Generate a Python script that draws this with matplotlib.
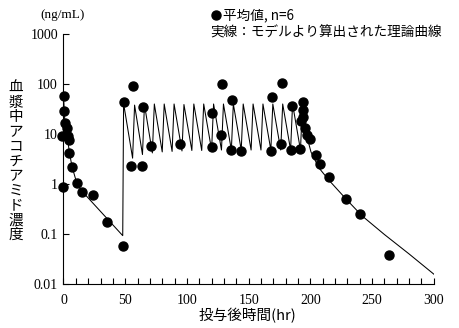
import matplotlib
matplotlib.use("Agg")
import matplotlib.pyplot as plt
import numpy as np
from matplotlib.ticker import FixedLocator, MultipleLocator

# observed mean values (hr, ng/mL)
obs_t = [0.4, 0.4, 1.5, 3.1, -1.2, 3.4, 4.2, 4.8, 7.1, 10.7, -0.3, 15, 23.6, 35, 48,
         48.7, 56.7, 54.8, 63.7, 64.5, 71, 94.5, 120.3, 120.5, 127.9, 128.7,
         136.6, 136, 144, 168.3, 169.1, 176.4, 177.2, 184.5, 185.3, 192,
         193.8, 193.8, 194.2, 192.5, 195.5, 197.5, 199.5, 204.7, 207.6, 215.2,
         228.5, 240.3, 264]
obs_c = [58, 29, 17, 13, 9.1, 9.1, 7.6, 4.2, 2.2, 1.03, 0.86, 0.70, 0.60, 0.176, 0.058,
         44, 92, 2.3, 2.3, 35, 5.8, 6.3, 5.6, 26, 9.5, 100,
         48, 4.8, 4.5, 4.6, 56, 6.4, 106, 4.8, 36, 5.1,
         44, 30, 22, 18.5, 13, 9.8, 8.0, 3.8, 2.5, 1.36,
         0.51, 0.25, 0.039]

# model curve: single dose phase
first_t = [0, 1, 2, 3, 4, 5, 7, 11, 15, 48]
first_c = [60, 20, 13, 9.5, 6, 4, 2.2, 1.0, 0.72, 0.093]

# repeated dosing phase (q8h)
dose_t = [48, 56, 64, 72, 80, 88, 96, 104, 112, 120, 128, 136, 144, 152, 160,
          168, 176, 184, 192]
peak_c = [41, 38, 39, 40, 40, 40, 39, 40, 40, 40, 40, 40, 40, 40, 40, 40, 40, 40, 40]
trough_c = [0.093, 3.3, 3.9, 4.2, 4.4, 4.5, 4.6, 4.7, 4.7, 4.8, 4.8, 4.8, 4.8, 4.8,
            4.8, 4.8, 4.8, 4.8, 4.8]

# elimination after last dose
last_t = [195.5, 200.5, 203, 207, 215, 229, 242, 260, 280, 300]
last_c = [13, 4.4, 3.3, 2.1, 1.2, 0.50, 0.23, 0.098, 0.040, 0.0158]

line_t = list(first_t)
line_c = list(first_c)
for i in range(len(dose_t)):
    line_t += [dose_t[i], dose_t[i] + (0.7 if i == 0 else 1.6)]
    line_c += [trough_c[i], peak_c[i]]
line_t += last_t
line_c += last_c

plt.rcParams['font.family'] = ['Liberation Serif', 'Noto Sans CJK JP']
jp = ['Noto Sans CJK JP', 'Liberation Serif']

fig = plt.figure(figsize=(4.6, 3.28), dpi=100)
ax = fig.add_axes([0.138, 0.134, 0.805, 0.762])

ax.plot(line_t, line_c, color='black', lw=0.75)
ax.plot(obs_t, obs_c, 'o', color='black', ms=6.5, clip_on=False, zorder=3)

ax.set_yscale('log')
ax.set_xlim(0, 300)
ax.set_ylim(0.01, 1000)
ax.yaxis.set_major_locator(FixedLocator([0.01, 0.1, 1, 10, 100, 1000]))
ax.yaxis.set_minor_locator(FixedLocator([]))
ax.set_yticklabels(['0.01', '0.1', '1', '10', '100', '1000'])
ax.xaxis.set_major_locator(MultipleLocator(50))
ax.xaxis.set_minor_locator(MultipleLocator(10))
ax.tick_params(which='both', direction='in', length=4, width=0.8, labelsize=10)
ax.tick_params(axis='y', pad=4)
ax.tick_params(axis='x', pad=7)
ax.spines['top'].set_visible(False)
ax.spines['right'].set_visible(False)

fig.text(40 / 460, 1 - 15 / 328, '(ng/mL)', fontsize=9.5, va='center', ha='left')

# legend text
fig.lines.append(plt.Line2D([216 / 460], [1 - 15 / 328], marker='o', color='black',
                            ms=6.5, transform=fig.transFigure))
fig.text(223 / 460, 1 - 15 / 328, '平均値, n=6', fontsize=9.8, family=jp,
         va='center', ha='left')
fig.text(210 / 460, 1 - 33 / 328, '実線：モデルより算出された理論曲線', fontsize=9.8,
         family=jp, va='center', ha='left')

# vertical y label
ylab = '血漿中アコチアミド濃度'
for k, ch in enumerate(ylab):
    fig.text(16 / 460, 1 - (88 + k * 14.7) / 328, ch, fontsize=10.5, family=jp,
             va='center', ha='center')

fig.text(247 / 460, 1 - 316 / 328, '投与後時間(hr)', fontsize=10.5, family=jp,
         va='center', ha='center')

fig.savefig('out.png', dpi=100)
